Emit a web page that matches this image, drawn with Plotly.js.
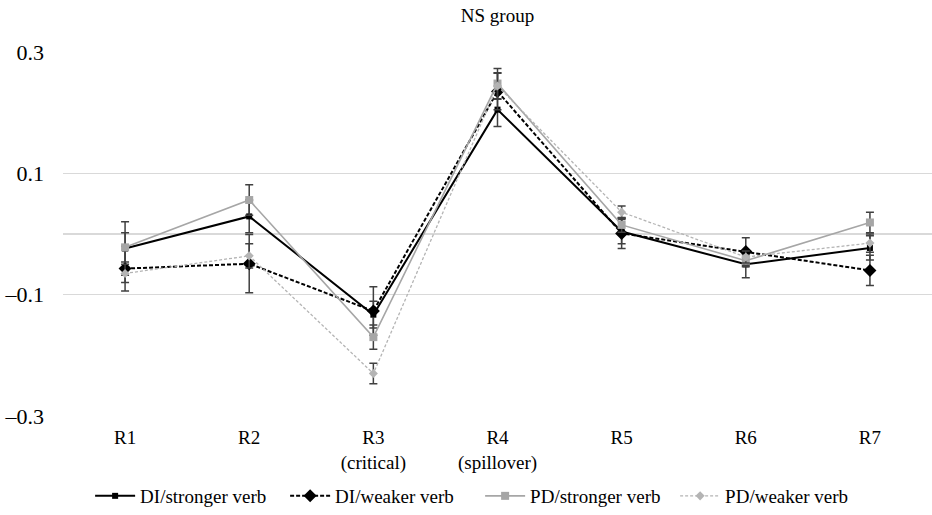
<!DOCTYPE html>
<html>
<head>
<meta charset="utf-8">
<script src="https://cdn.plot.ly/plotly-3.0.1.min.js"></script>
<style>html,body{margin:0;padding:0;background:#fff;}#chart{width:932px;height:515px;}</style>
</head>
<body>
<div id="chart"></div>
<script>
// Categories (regions)
const categories = ["R1", "R2", "R3<br>(critical)", "R4<br>(spillover)", "R5", "R6", "R7"];

// Series values
const diStronger    = [-0.024, 0.029, -0.133, 0.205, 0.004, -0.050, -0.023];
const diStrongerErr = [0.044, 0.027, 0.022, 0.028, 0.020, 0.022, 0.020];
const diWeaker      = [-0.057, -0.049, -0.127, 0.235, 0.001, -0.029, -0.060];
const diWeakerErr   = [0.037, 0.048, 0.040, 0.030, 0.025, 0.023, 0.025];
const pdStronger    = [-0.022, 0.056, -0.170, 0.248, 0.015, -0.044, 0.019];
const pdStrongerErr = [0.024, 0.025, 0.020, 0.025, 0.012, 0.010, 0.017];
const pdWeaker      = [-0.065, -0.036, -0.230, 0.244, 0.036, -0.038, -0.015];
const pdWeakerErr   = [0.015, 0.020, 0.017, 0.022, 0.010, 0.010, 0.015];

// Tick labels
const yTickVals = [-0.3, -0.1, 0, 0.1, 0.3];
const yTickText = ["\u20130.3", "\u20130.1", "", "0.1", "0.3"];

const FONT = "Liberation Serif";
const errStyle = (arr) => ({type: "data", array: arr, visible: true, color: "#404040", thickness: 1.5, width: 4});

const traces = [
  {x: categories, y: diStronger, name: "DI/stronger verb", type: "scatter", mode: "lines+markers",
   line: {color: "#000000", width: 2}, marker: {symbol: "square", size: 6, color: "#000000"},
   error_y: errStyle(diStrongerErr)},
  {x: categories, y: diWeaker, name: "DI/weaker verb", type: "scatter", mode: "lines+markers",
   line: {color: "#000000", width: 2, dash: "4px,2px"}, marker: {symbol: "diamond", size: 10, color: "#000000"},
   error_y: errStyle(diWeakerErr)},
  {x: categories, y: pdStronger, name: "PD/stronger verb", type: "scatter", mode: "lines+markers",
   line: {color: "#a6a6a6", width: 1.6}, marker: {symbol: "square", size: 8, color: "#a6a6a6"},
   error_y: errStyle(pdStrongerErr)},
  {x: categories, y: pdWeaker, name: "PD/weaker verb", type: "scatter", mode: "lines+markers",
   line: {color: "#b4b4b4", width: 1.3, dash: "3px,2px"}, marker: {symbol: "diamond", size: 7, color: "#b4b4b4"},
   error_y: errStyle(pdWeakerErr)}
];

const layout = {
  width: 932, height: 515,
  paper_bgcolor: "#ffffff", plot_bgcolor: "#ffffff",
  margin: {l: 63, r: 0, t: 52, b: 98},
  font: {family: FONT, color: "#000000", size: 19},
  title: {text: "NS group", font: {family: FONT, size: 19, color: "#000"}, x: 0.5, xref: "paper", xanchor: "center",
          y: 1 - 15/515, yref: "container", yanchor: "middle"},
  xaxis: {type: "category", range: [-0.5, 6.5], showgrid: false, zeroline: false, showline: false,
          ticks: "", tickangle: 0, automargin: false, tickfont: {family: FONT, size: 19}, ticklabelstandoff: 8, fixedrange: true},
  yaxis: {range: [-0.3, 0.3], tickvals: yTickVals, ticktext: yTickText, showgrid: true, gridcolor: "#d9d9d9",
          gridwidth: 1.5, zeroline: false, showline: false, ticks: "", ticklabelstandoff: 18, automargin: false,
          tickfont: {family: FONT, size: 22}, fixedrange: true},
  showlegend: true,
  legend: {orientation: "h", x: 0.48, xanchor: "center", y: -0.219, yanchor: "middle",
           itemwidth: 40, entrywidth: 140, entrywidthmode: "pixels",
           font: {family: FONT, size: 19}, traceorder: "normal", bgcolor: "rgba(0,0,0,0)"}
};

Plotly.newPlot("chart", traces, layout, {displayModeBar: false, staticPlot: true});
</script>
</body>
</html>
